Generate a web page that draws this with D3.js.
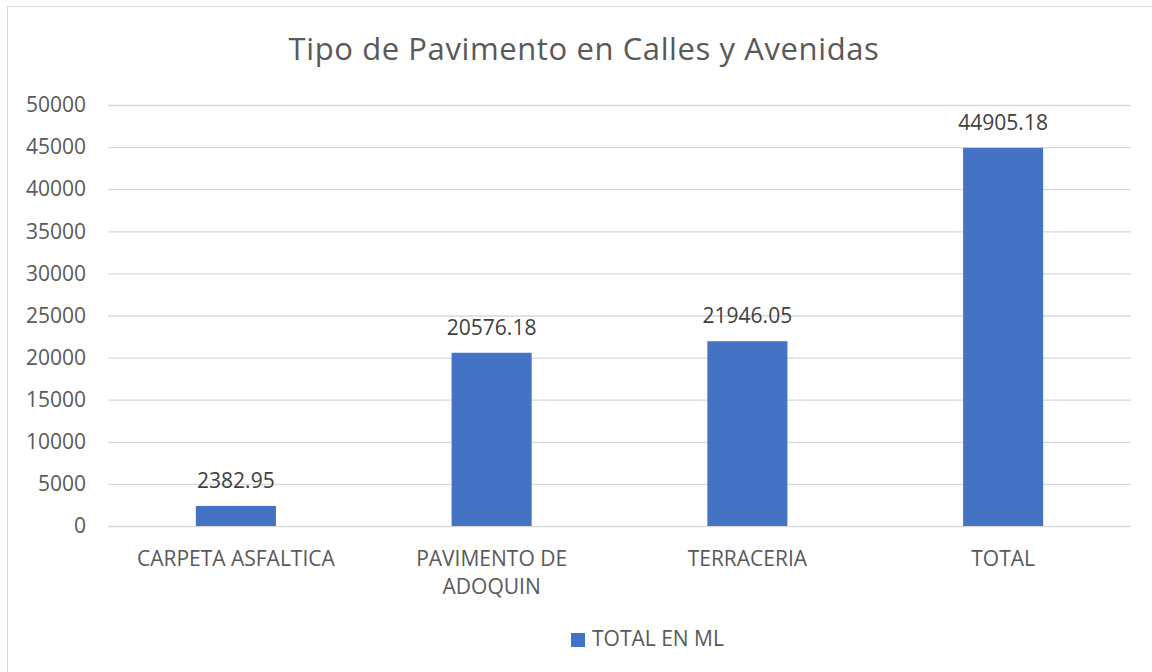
<!DOCTYPE html>
<html>
<head>
<meta charset="utf-8">
<script src="https://cdn.jsdelivr.net/npm/d3@7"></script>
<style>
  body { margin: 0; background: #fff; }
  svg { display: block; font-family: "Open Sans", "Liberation Sans", sans-serif; }
</style>
</head>
<body>
<svg width="1152" height="672"></svg>
<script>
const categories = ['CARPETA ASFALTICA', 'PAVIMENTO DE ADOQUIN', 'TERRACERIA', 'TOTAL'];
const categoryLines = [['CARPETA ASFALTICA'], ['PAVIMENTO DE', 'ADOQUIN'], ['TERRACERIA'], ['TOTAL']];
const values = [2382.95, 20576.18, 21946.05, 44905.18];
const valueLabels = ['2382.95', '20576.18', '21946.05', '44905.18'];
const yTicks = [0, 5000, 10000, 15000, 20000, 25000, 30000, 35000, 40000, 45000, 50000];
const seriesName = 'TOTAL EN ML';

const barColor = '#4472C4';
const textColor = '#595959';
const gridColor = '#D9D9D9';

const svg = d3.select('svg');

// chart border
svg.append('rect')
  .attr('x', 7.5).attr('y', 6.5)
  .attr('width', 1160).attr('height', 680)
  .attr('fill', 'none')
  .attr('stroke', '#D9D9D9');

const plotLeft = 108, plotRight = 1131, plotTop = 105, plotBottom = 526;

const x = d3.scaleBand()
  .domain(categories)
  .range([plotLeft, plotRight])
  .paddingInner(0.687)
  .paddingOuter(0.3435);

const y = d3.scaleLinear()
  .domain([0, 50000])
  .range([plotBottom, plotTop]);

// title
svg.append('text')
  .attr('x', 584).attr('y', 60)
  .attr('text-anchor', 'middle')
  .style('font-size', '31px')
  .style('letter-spacing', '0.6px')
  .style('fill', textColor)
  .text('Tipo de Pavimento en Calles y Avenidas');

// gridlines + y axis labels
const yAxis = svg.append('g')
  .attr('transform', `translate(${plotLeft},0)`)
  .call(d3.axisLeft(y).tickValues(yTicks).tickSize(-(plotRight - plotLeft)).tickPadding(22).tickFormat(d3.format('d')));
yAxis.select('.domain').remove();
yAxis.selectAll('.tick line').attr('stroke', gridColor).attr('stroke-width', 1.3);
yAxis.selectAll('.tick text')
  .style('font-size', '21px')
  .style('font-family', '"Open Sans", sans-serif')
  .attr('fill', textColor);

// bars
svg.append('g').selectAll('rect')
  .data(values)
  .enter()
  .append('rect')
  .attr('x', (d, i) => x(categories[i]))
  .attr('y', d => y(d))
  .attr('width', x.bandwidth())
  .attr('height', d => y(0) - y(d))
  .attr('fill', barColor);

// data labels
svg.append('g').selectAll('text')
  .data(values)
  .enter()
  .append('text')
  .attr('x', (d, i) => x(categories[i]) + x.bandwidth() / 2)
  .attr('y', d => y(d) - 18)
  .attr('text-anchor', 'middle')
  .style('font-size', '21px')
  .style('fill', '#404040')
  .text((d, i) => valueLabels[i]);

// category labels
const catG = svg.append('g').selectAll('text')
  .data(categories)
  .enter()
  .append('text')
  .attr('x', d => x(d) + x.bandwidth() / 2)
  .attr('y', 566)
  .attr('text-anchor', 'middle')
  .style('font-size', '21px')
  .style('fill', textColor);
catG.each(function(d, i) {
  d3.select(this).selectAll('tspan')
    .data(categoryLines[i])
    .enter()
    .append('tspan')
    .attr('x', x(d) + x.bandwidth() / 2)
    .attr('dy', (l, j) => j === 0 ? 0 : 28)
    .text(l => l);
});

// legend
svg.append('rect')
  .attr('x', 571).attr('y', 633)
  .attr('width', 14).attr('height', 14)
  .attr('fill', barColor);
svg.append('text')
  .attr('x', 592).attr('y', 646)
  .style('font-size', '21px')
  .style('fill', textColor)
  .text(seriesName);
</script>
</body>
</html>
